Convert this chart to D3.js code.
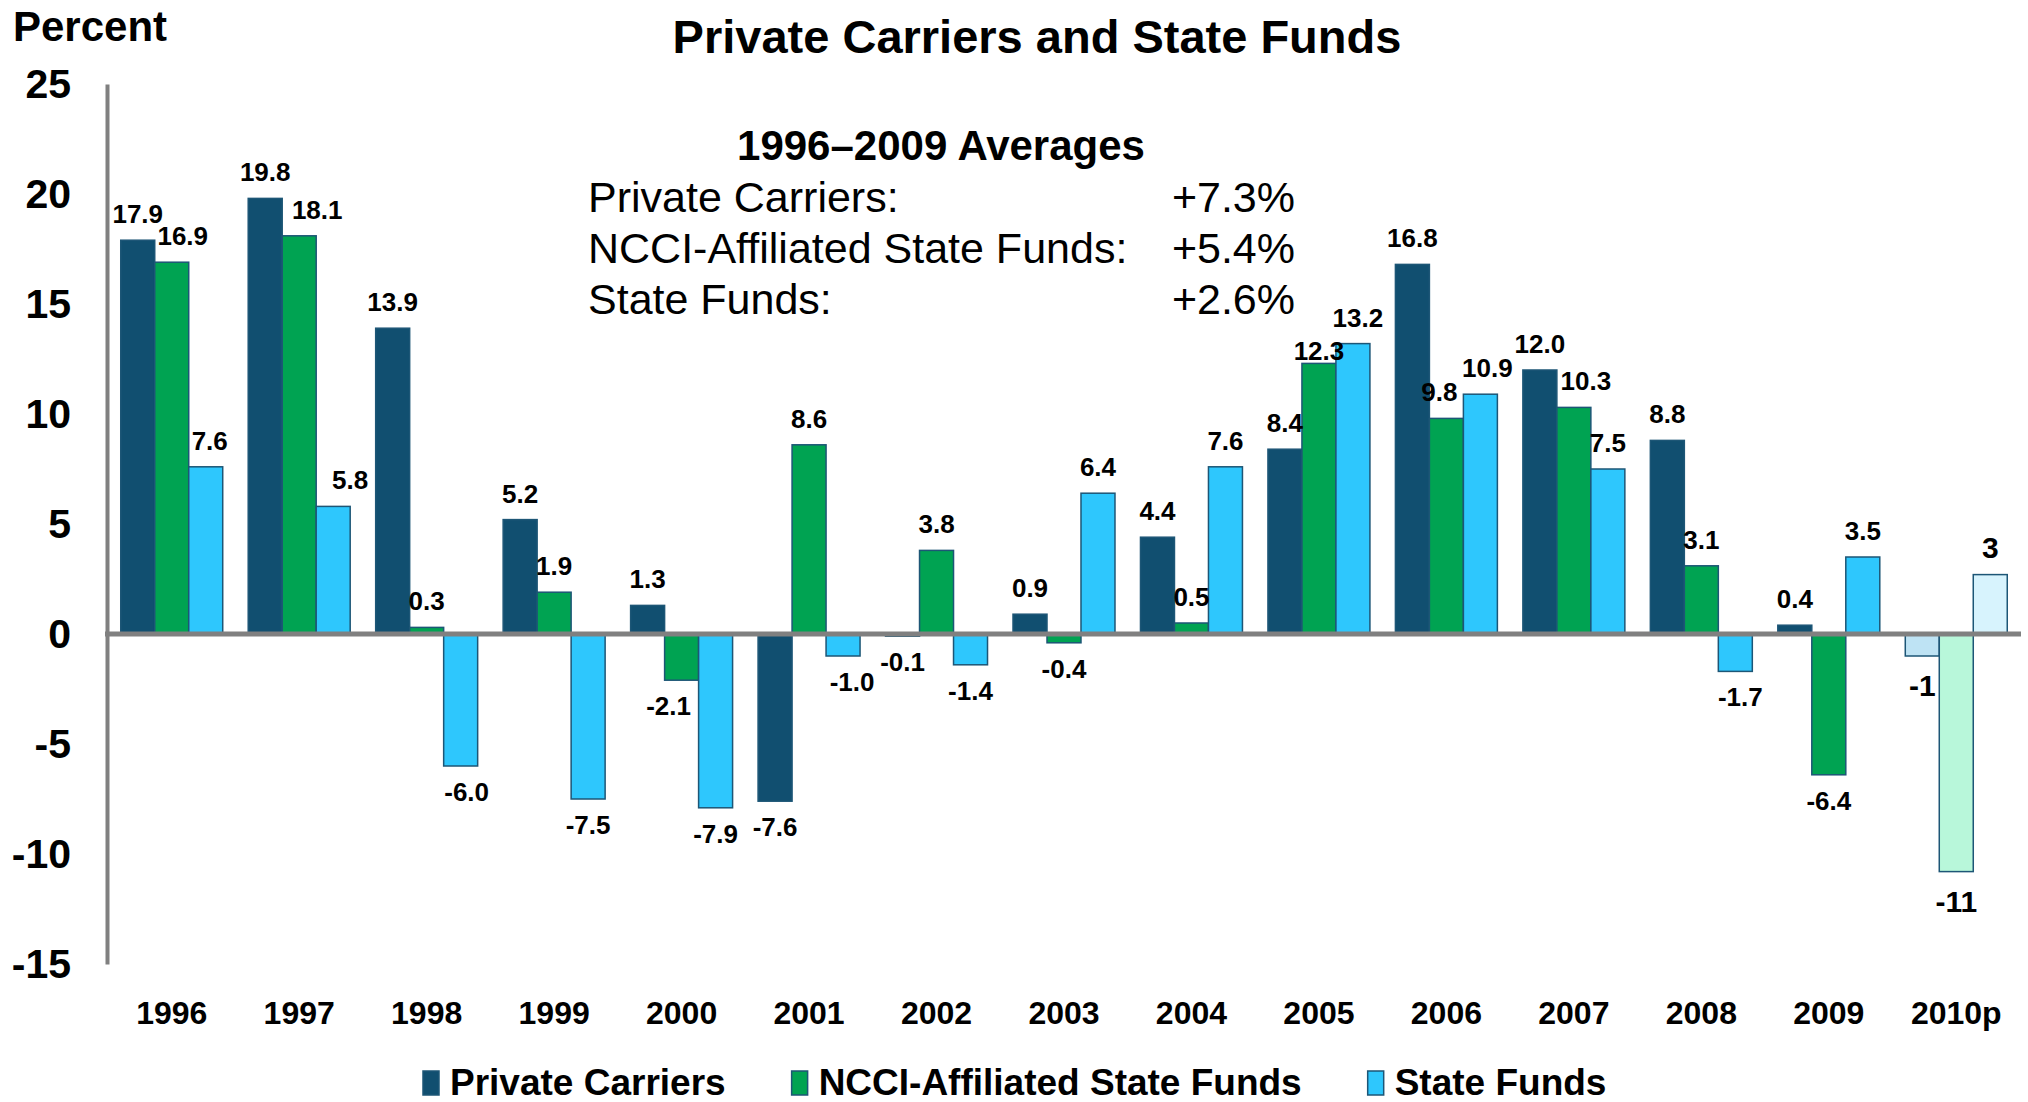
<!DOCTYPE html>
<meta charset="utf-8">
<style>
body {
  margin: 0;
  background: #fff;
  font-family: "Liberation Sans", Arial, sans-serif;
}
.bar {
  stroke: #1d5676;
  stroke-width: 1.5;
}
.label {
  font-weight: bold;
  text-anchor: middle;
  fill: #000;
}
.axis text {
  font-family: "Liberation Sans", Arial, sans-serif;
  font-weight: bold;
  fill: #000;
}
</style>
<body>
<svg width="2028" height="1102"></svg>
<script src="https://d3js.org/d3.v7.min.js"></script>
<script>
// chart values
var years = ["1996", "1997", "1998", "1999", "2000", "2001", "2002", "2003",
             "2004", "2005", "2006", "2007", "2008", "2009", "2010p"];
var privateCarriers = [17.9, 19.8, 13.9, 5.2, 1.3, -7.6, -0.1, 0.9, 4.4, 8.4, 16.8, 12.0, 8.8, 0.4, -1.0];
var ncciFunds       = [16.9, 18.1, 0.3, 1.9, -2.1, 8.6, 3.8, -0.4, 0.5, 12.3, 9.8, 10.3, 3.1, -6.4, -10.8];
var stateFunds      = [7.6, 5.8, -6.0, -7.5, -7.9, -1.0, -1.4, 6.4, 7.6, 13.2, 10.9, 7.5, -1.7, 3.5, 2.7];
var seriesNames = ["Private Carriers", "NCCI-Affiliated State Funds", "State Funds"];
var yTicks = [25, 20, 15, 10, 5, 0, -5, -10, -15];
var avgNames = ["Private Carriers:", "NCCI-Affiliated State Funds:", "State Funds:"];
var avgValues = [7.3, 5.4, 2.6];

var colors = ["#114f70", "#00a352", "#2ec7fd"];
var lightColors = ["#bee3f4", "#b8f7da", "#d7f3fd"];   // projected year (2010p)

// hand nudges for crowded value labels [dx, dy], keyed year + series index
var labelNudge = {
  "1996-1": [11, 0], "1996-2": [4, 0],
  "1997-1": [18, 0], "1997-2": [17, 0],
  "1998-2": [6, 0],
  "2000-1": [-13, 0],
  "2001-2": [9, 0],
  "2005-1": [0, 14], "2005-2": [5, 0],
  "2006-1": [-7, 0], "2006-2": [7, 0],
  "2007-1": [12, 0],
  "2008-2": [5, 0]
};

var series = [privateCarriers, ncciFunds, stateFunds];
var data = [];
years.forEach(function(yr, i) {
  series.forEach(function(s, k) {
    data.push({year: yr, key: k, value: s[i], projected: /p$/.test(yr)});
  });
});

var locale = d3.formatLocale({decimal: ".", thousands: ",", grouping: [3], currency: ["$", ""], minus: "-"});
var f1 = locale.format(".1f"), f0 = locale.format(".0f");

var svg = d3.select("svg");

var x = d3.scaleBand().domain(years).range([108, 2020])
    .paddingInner(0.2).paddingOuter(0.1);
var x1 = d3.scaleBand().domain([0, 1, 2]).range([0, x.bandwidth()]);
var y = d3.scaleLinear().domain([-15, 25]).range([964, 84]);

// title and axis caption
svg.append("text")
    .attr("x", 1037).attr("y", 53)
    .attr("text-anchor", "middle")
    .style("font", "bold 47px 'Liberation Sans', Arial, sans-serif")
    .text("Private Carriers and State Funds");

svg.append("text")
    .attr("x", 13).attr("y", 41)
    .style("font", "bold 42px 'Liberation Sans', Arial, sans-serif")
    .text("Percent");

// bars
svg.selectAll(".bar")
  .data(data)
  .enter().append("rect")
    .attr("class", "bar")
    .attr("x", function(d) { return x(d.year) + x1(d.key); })
    .attr("width", x1.bandwidth())
    .attr("y", function(d) { return y(Math.max(0, d.value)); })
    .attr("height", function(d) { return Math.abs(y(d.value) - y(0)); })
    .attr("fill", function(d) { return d.projected ? lightColors[d.key] : colors[d.key]; });

// value labels
function nudge(d) { return labelNudge[d.year + "-" + d.key] || [0, 0]; }
svg.selectAll(".label")
  .data(data)
  .enter().append("text")
    .attr("class", "label")
    .attr("x", function(d) { return x(d.year) + x1(d.key) + x1.bandwidth() / 2 + nudge(d)[0]; })
    .attr("y", function(d) {
      var base = d.value >= 0 ? y(d.value) - 17 : y(d.value) + (d.projected ? 40 : 35);
      return base + nudge(d)[1];
    })
    .style("font-size", function(d) { return d.projected ? "30px" : "26px"; })
    .text(function(d) { return d.projected ? f0(d.value) : f1(d.value); });

// y axis
var yAxis = svg.append("g")
    .attr("class", "axis")
    .attr("transform", "translate(107,0)")
    .call(d3.axisLeft(y).tickValues(yTicks).tickFormat(f0)
      .tickSize(0).tickSizeOuter(0).tickPadding(36));
yAxis.select(".domain").attr("stroke", "#808080").attr("stroke-width", 4);
yAxis.selectAll("text").style("font-size", "41px");

// x axis (labels only)
var xAxis = svg.append("g")
    .attr("class", "axis")
    .attr("transform", "translate(0,964)")
    .call(d3.axisBottom(x).tickSize(0).tickPadding(37));
xAxis.select(".domain").remove();
xAxis.selectAll("text").style("font-size", "32px");

// zero line
svg.append("line")
    .attr("x1", 105).attr("x2", 2021)
    .attr("y1", y(0)).attr("y2", y(0))
    .attr("stroke", "#808080")
    .attr("stroke-width", 5);

// averages box
svg.append("text")
    .attr("x", 941).attr("y", 160)
    .attr("text-anchor", "middle")
    .style("font", "bold 42px 'Liberation Sans', Arial, sans-serif")
    .text("1996\u20132009 Averages");

var avg = svg.selectAll(".avg")
  .data(avgNames)
  .enter().append("g")
    .attr("class", "avg")
    .attr("transform", function(d, i) { return "translate(0," + (212 + i * 51) + ")"; });
avg.append("text")
    .attr("x", 588)
    .style("font", "43px 'Liberation Sans', Arial, sans-serif")
    .text(function(d) { return d; });
avg.append("text")
    .attr("x", 1295)
    .attr("text-anchor", "end")
    .style("font", "43px 'Liberation Sans', Arial, sans-serif")
    .text(function(d, i) { return "+" + f1(avgValues[i]) + "%"; });

// legend
var lx = 423;
seriesNames.forEach(function(name, k) {
  svg.append("rect")
      .attr("x", lx).attr("y", 1071)
      .attr("width", 16).attr("height", 24)
      .attr("fill", colors[k])
      .attr("stroke", "#1d5676").attr("stroke-width", 1.5);
  var t = svg.append("text")
      .attr("x", lx + 27).attr("y", 1095)
      .style("font", "bold 37px 'Liberation Sans', Arial, sans-serif")
      .text(name);
  lx += 27 + t.node().getComputedTextLength() + 66;
});
</script>
</body>
